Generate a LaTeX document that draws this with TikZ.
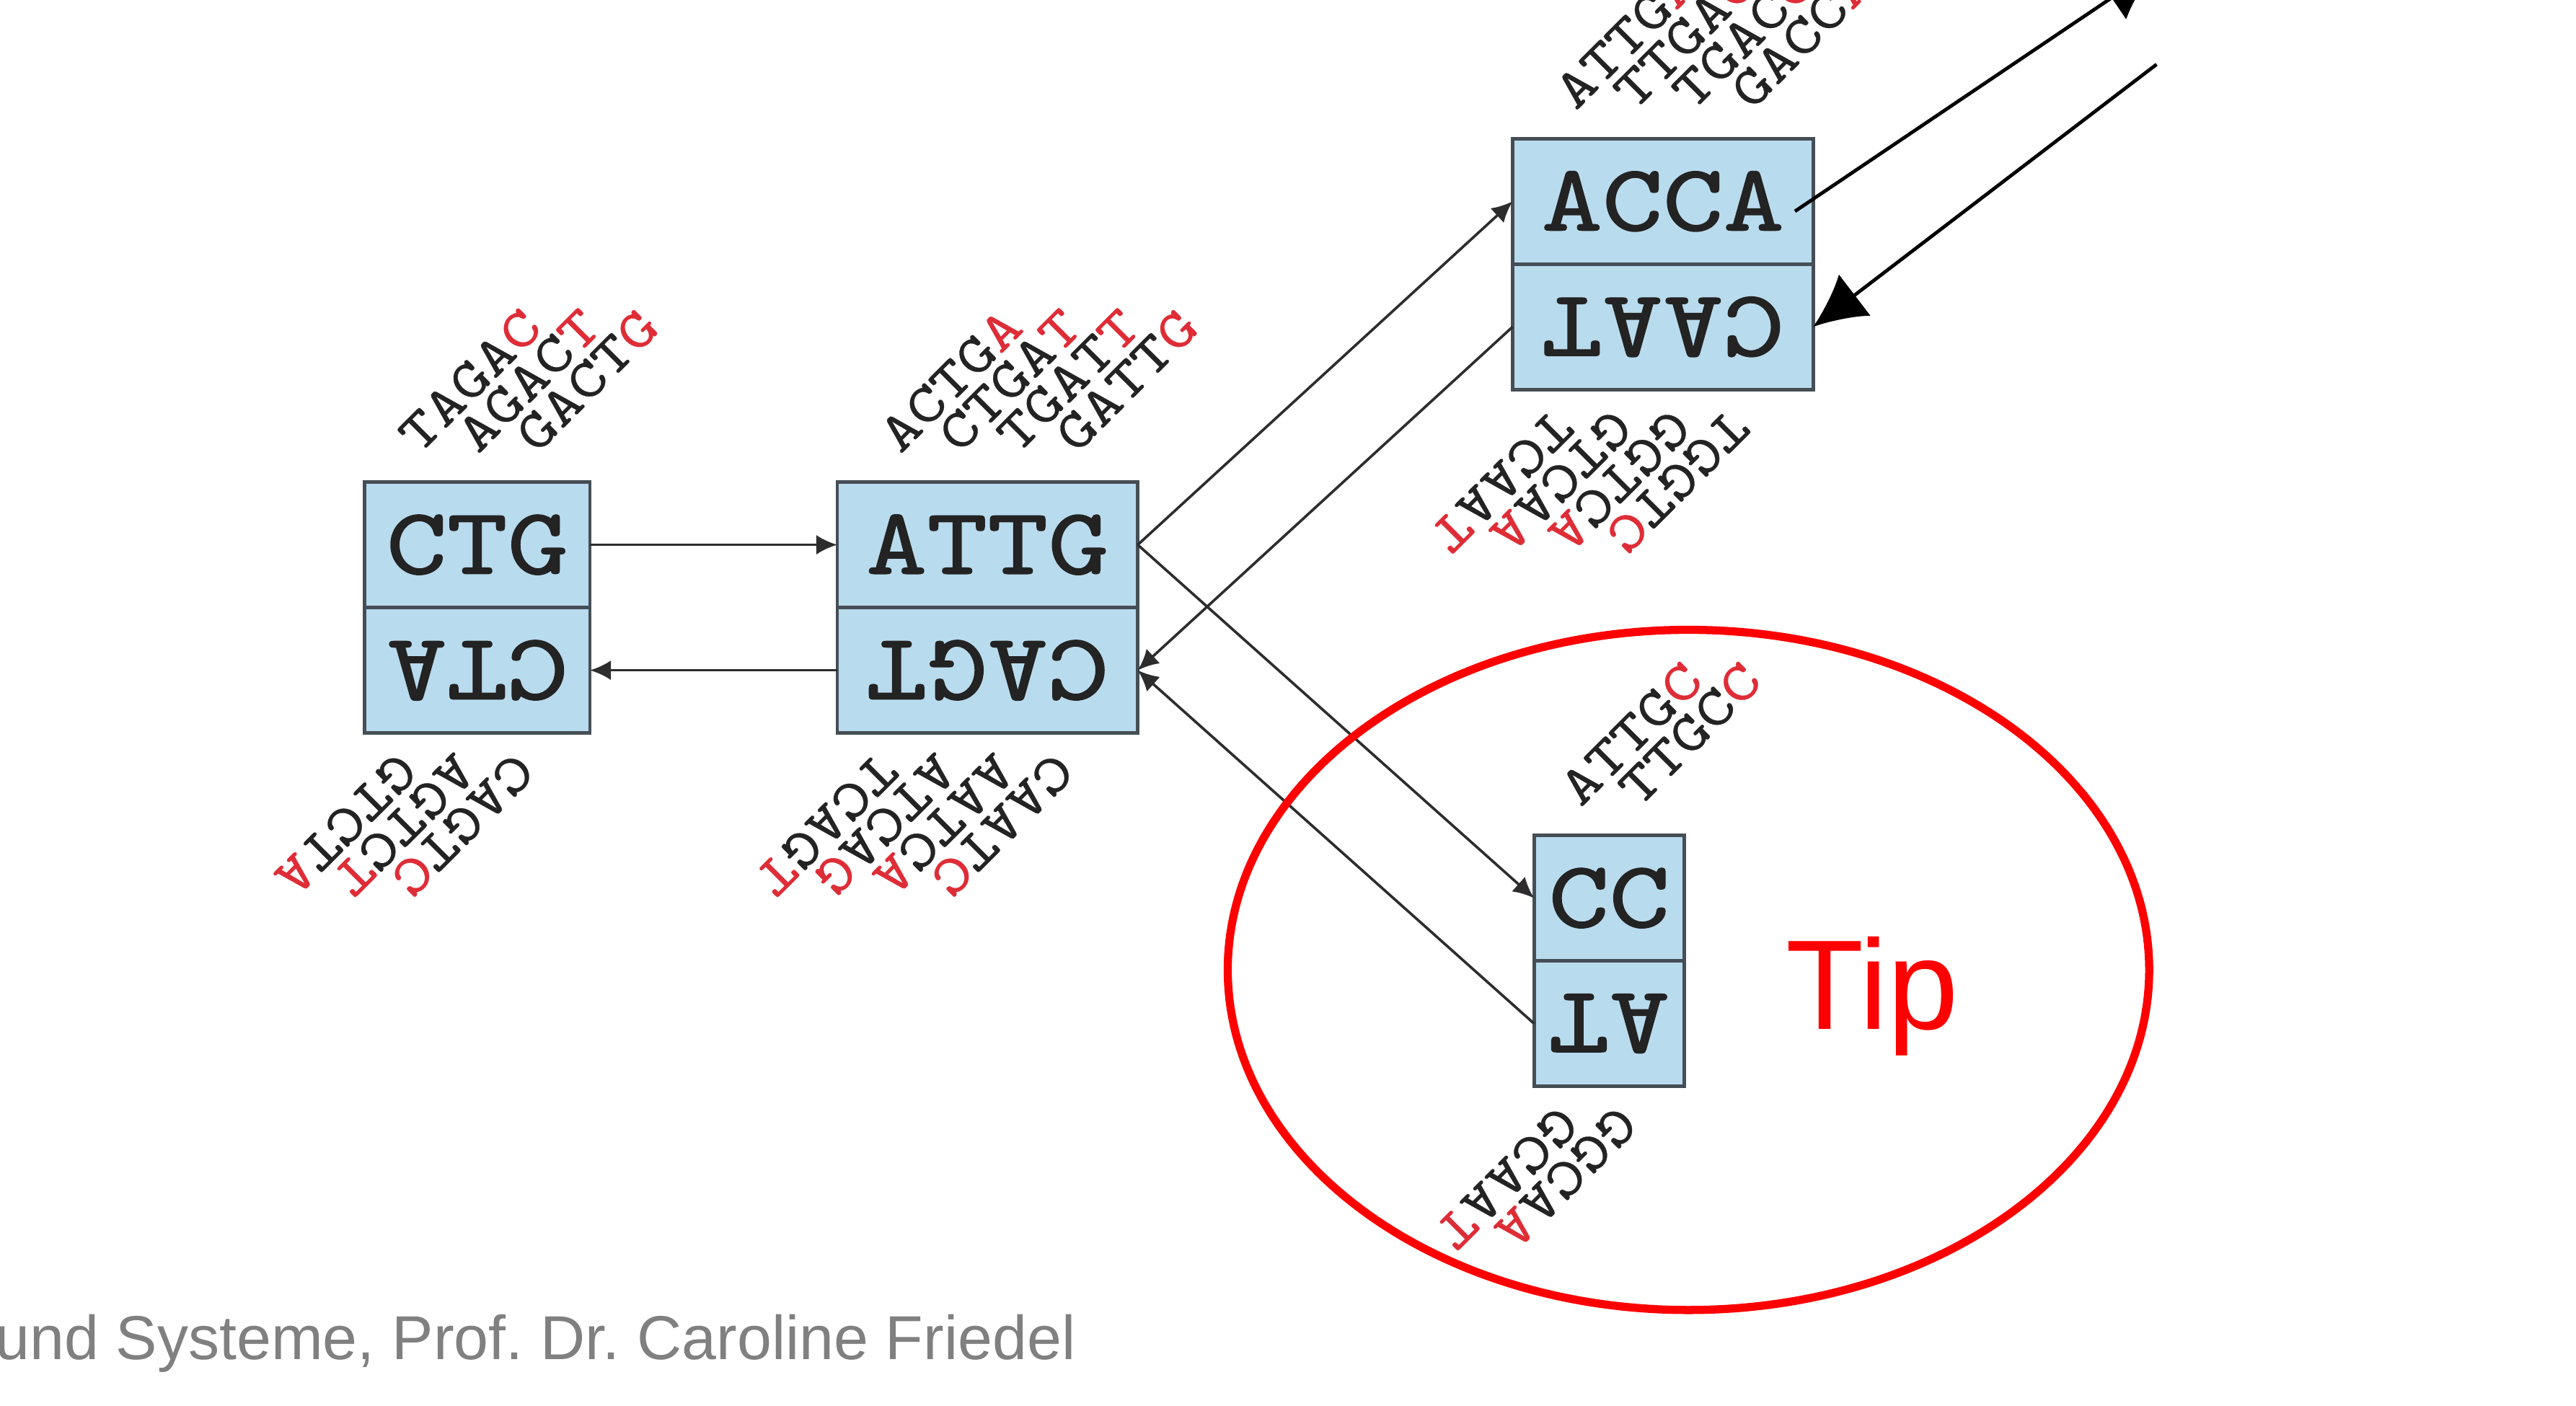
\documentclass[tikz,border=0pt]{standalone}
\usepackage{fontspec}
\usepackage{graphicx}
\setmainfont{Liberation Sans}
\newfontfamily\seqfont[FakeStretch=1.22,FakeBold=0.4]{lmmono10-regular.otf}
\newfontfamily\nodefont[FakeStretch=1.22,FakeBold=1.3]{lmmono10-regular.otf}
\usetikzlibrary{positioning}
\usetikzlibrary{calc}
\usetikzlibrary{arrows.meta}
\definecolor{boxfill}{RGB}{185,219,238}
\definecolor{boxline}{RGB}{70,78,85}
\definecolor{conn}{RGB}{45,45,45}
\definecolor{kred}{RGB}{222,45,55}
\definecolor{kblack}{RGB}{35,35,35}
\definecolor{footgray}{RGB}{128,128,128}
\tikzset{>={Latex[length=3.6pt,width=3.4pt]}}
\tikzstyle{half}=[draw=boxline, line width=0.6pt, fill=boxfill, minimum height=0.76cm, inner sep=0pt, outer sep=0pt, text=kblack, font=\nodefont\fontsize{16.3}{16.3}\selectfont]
\tikzstyle{kmer}=[inner sep=0pt, anchor=base west, text=kblack, font=\seqfont\fontsize{9.5}{9.5}\selectfont]
\tikzstyle{edge}=[->, conn, line width=0.45pt]
\tikzstyle{big}=[-{Latex[length=9pt,width=9pt]}, black, line width=0.6pt]

\begin{document}
\begin{tikzpicture}
	%\draw [help lines] (0,0) grid (15.6,8.512);
	\useasboundingbox (0,0) rectangle (15.6,8.512);

	% nodes: sequence on top, twin (turned round) below
	\node[half, minimum width=1.365cm] (ctg) at (2.89,5.212) {CTG};
	\node[half, minimum width=1.365cm, below=0pt of ctg] (ctgtw) {\rotatebox[origin=c]{180}{CTA}};

	\node[half, minimum width=1.82cm] (attg) at (5.98,5.212) {ATTG};
	\node[half, minimum width=1.82cm, below=0pt of attg] (attgtw) {\rotatebox[origin=c]{180}{CAGT}};

	\node[half, minimum width=1.82cm] (acca) at (10.07,7.292) {ACCA};
	\node[half, minimum width=1.82cm, below=0pt of acca] (accatw) {\rotatebox[origin=c]{180}{CAAT}};

	\node[half, minimum width=0.91cm] (cc) at (9.745,3.072) {CC};
	\node[half, minimum width=0.91cm, below=0pt of cc] (cctw) {\rotatebox[origin=c]{180}{AT}};

	% k-mers above and below
	\foreach \s/\e [count=\i] in {TAGA/C, AGAC/T, GACT/G}
		\node[kmer, rotate=45] (ctgk\i) at ($(ctg.north)+(\i*0.355-0.71,0.16)$) {\s\textcolor{kred}{\e}};
	\foreach \s/\e [count=\i] in {CAGT/C, AGTC/T, GTCT/A}
		\node[kmer, rotate=225] (ctgtk\i) at ($(ctgtw.south)+(0.58-\i*0.355,-0.10)$) {\s\textcolor{kred}{\e}};

	\foreach \s/\e [count=\i] in {ACTG/A, CTGA/T, TGAT/T, GATT/G}
		\node[kmer, rotate=45] (attgk\i) at ($(attg.north)+(\i*0.355-0.8875,0.16)$) {\s\textcolor{kred}{\e}};
	\foreach \s/\e [count=\i] in {CAAT/C, AATC/A, ATCA/G, TCAG/T}
		\node[kmer, rotate=225] (attgtk\i) at ($(attgtw.south)+(0.7575-\i*0.355,-0.10)$) {\s\textcolor{kred}{\e}};

	\foreach \s/\e [count=\i] in {ATTG/A, TTGA/C, TGAC/C, GACC/A}
		\node[kmer, rotate=45] (accak\i) at ($(acca.north)+(\i*0.355-0.8875,0.16)$) {\s\textcolor{kred}{\e}};
	\foreach \s/\e [count=\i] in {TGGT/C, GGTC/A, GTCA/A, TCAA/T}
		\node[kmer, rotate=225] (accatk\i) at ($(accatw.south)+(0.7575-\i*0.355,-0.10)$) {\s\textcolor{kred}{\e}};

	\foreach \s/\e [count=\i] in {ATTG/C, TTGC/C}
		\node[kmer, rotate=45] (cck\i) at ($(cc.north)+(\i*0.355-0.5325,0.16)$) {\s\textcolor{kred}{\e}};
	\foreach \s/\e [count=\i] in {GGCA/A, GCAA/T}
		\node[kmer, rotate=225] (cctk\i) at ($(cctw.south)+(0.4025-\i*0.355,-0.10)$) {\s\textcolor{kred}{\e}};

	% edges
	\draw[edge] (ctg.east) -- (attg.west);
	\draw[edge] (attgtw.west) -- (ctgtw.east);
	\draw[edge] (attg.east) -- (acca.west);
	\draw[edge] (accatw.west) -- (attgtw.east);
	\draw[edge] (attg.east) -- (cc.west);
	\draw[edge] (cctw.west) -- (attgtw.east);

	% edges leaving the picture
	\coordinate (accaout) at ($(acca.east)+(-0.11,-0.06)$);
	\coordinate (accanext) at (13.05,8.702);
	\coordinate (accaprev) at (13.06,8.122);
	\draw[big] (accaout) -- (accanext);
	\draw[big] (accaprev) -- (accatw.east);

	% the tip
	\draw[red, line width=1.4pt] (10.225,2.637) ellipse (2.79 and 2.06);
	\node[anchor=base west, inner sep=0pt, text=red, font=\fontsize{22}{22}\selectfont] (tip) at (10.81,2.276) {Tip};

	\node[anchor=base east, inner sep=0pt, text=footgray, font=\fontsize{10.7}{10.7}\selectfont] (footer) at (6.52,0.277) {und Systeme, Prof.\ Dr.\ Caroline Friedel};
\end{tikzpicture}
\end{document}
